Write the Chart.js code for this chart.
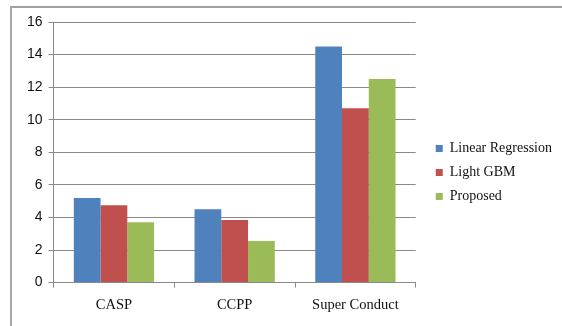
<!DOCTYPE html>
<html>
<head>
<meta charset="utf-8">
<script src="https://cdn.jsdelivr.net/npm/chart.js@4"></script>
<style>
  html,body{margin:0;padding:0;background:#fff;}
  #wrap{position:relative;width:562px;height:326px;}
  #frame{position:absolute;left:10px;top:6px;right:0;bottom:0;border-left:2px solid #a8a8a8;border-top:2px solid #a0a0a0;pointer-events:none;}
  canvas{position:absolute;left:0;top:0;}
</style>
</head>
<body>
<div id="wrap">
  <canvas id="c" width="562" height="326"></canvas>
  <div id="frame"></div>
</div>
<script>
const categories = ["CASP", "CCPP", "Super Conduct"];
const seriesNames = ["Linear Regression", "Light GBM", "Proposed"];
const linearRegression = [5.2, 4.5, 14.5];
const lightGBM = [4.75, 3.85, 10.7];
const proposed = [3.7, 2.55, 12.5];
const yTicks = [0, 2, 4, 6, 8, 10, 12, 14, 16];

const colors = ["#4F81BD", "#C0504D", "#9BBB59"];
const values = [linearRegression, lightGBM, proposed];

new Chart(document.getElementById('c'), {
  type: 'bar',
  data: {
    labels: categories,
    datasets: seriesNames.map((n, i) => ({
      label: n,
      data: values[i],
      backgroundColor: colors[i],
      borderWidth: 0,
      categoryPercentage: 0.665,
      barPercentage: 1.0,
      yAxisID: 'y'
    }))
  },
  options: {
    responsive: false,
    animation: false,
    devicePixelRatio: 1,
    layout: { padding: { left: 21, top: 22, right: 0, bottom: 3 } },
    plugins: {
      tooltip: { enabled: false },
      legend: {
        position: 'right',
        align: 'center',
        maxWidth: 200,
        labels: {
          boxWidth: 7,
          boxHeight: 7,
          padding: 10,
          color: '#111',
          font: { family: '"Liberation Serif", "Times New Roman", serif', size: 14 }
        }
      }
    },
    scales: {
      x: {
        offset: true,
        grid: { display: true, drawOnChartArea: false, drawTicks: true, tickLength: 5, color: '#8a8a8a', offset: true },
        border: { display: true, color: '#8a8a8a', width: 1 },
        ticks: {
          padding: 9,
          color: '#111',
          maxRotation: 0,
          font: { family: '"Liberation Serif", "Times New Roman", serif', size: 14.5 }
        }
      },
      y: {
        min: 0,
        max: 16,
        afterBuildTicks: s => { s.ticks = yTicks.map(v => ({ value: v })); },
        grid: { color: '#8a8a8a', tickLength: 5, drawTicks: true },
        border: { display: true, color: '#8a8a8a', width: 1 },
        ticks: {
          padding: 6,
          color: '#111',
          font: { family: '"Liberation Sans", Arial, sans-serif', size: 14 }
        }
      },
      spacer: {
        type: 'linear',
        position: 'right',
        display: true,
        grid: { display: false, drawTicks: false },
        border: { display: false },
        ticks: { display: false },
        afterFit: s => { s.width = 10; }
      }
    }
  }
});
</script>
</body>
</html>
